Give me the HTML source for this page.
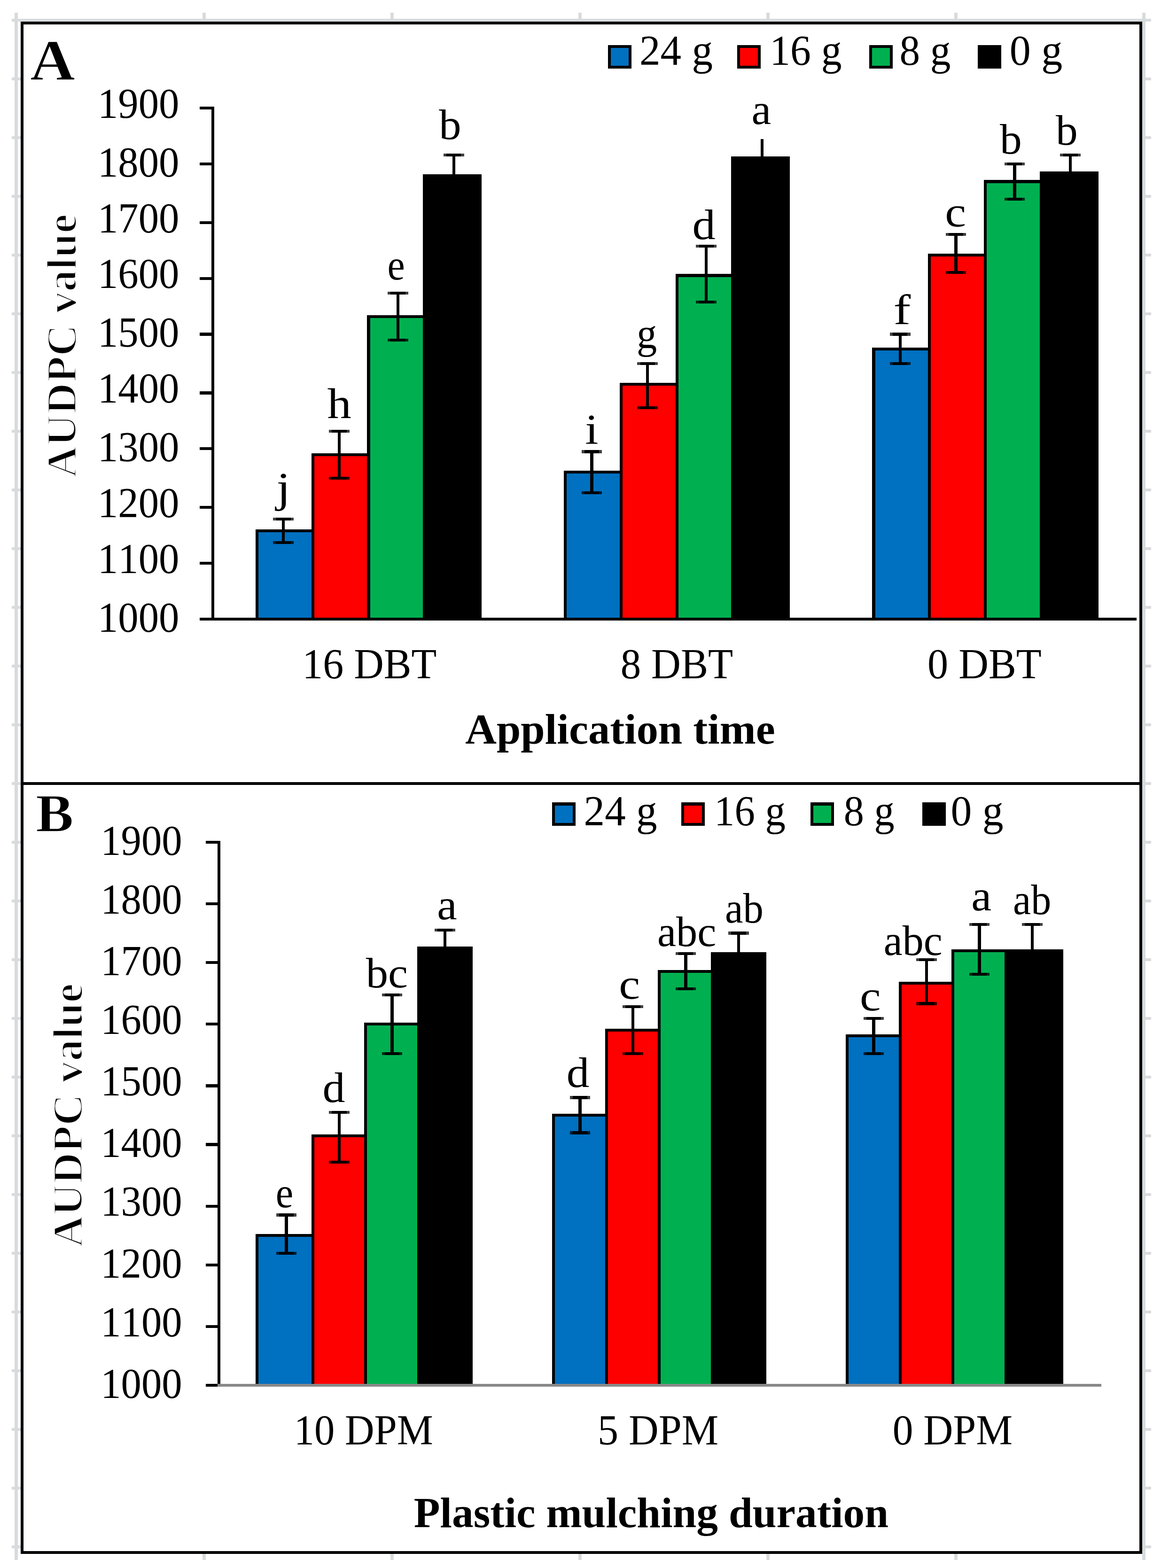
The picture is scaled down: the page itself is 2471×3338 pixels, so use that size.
<!DOCTYPE html>
<html><head><meta charset="utf-8"><title>AUDPC chart</title>
<style>
html,body{margin:0;padding:0;background:#fff;}
body{width:2471px;height:3338px;overflow:hidden;}
svg{display:block;}
text{font-family:"Liberation Serif","Times New Roman",serif;fill:#000;font-kerning:none;}
.b{font-weight:bold;}
</style></head>
<body>
<svg width="2471" height="3338" viewBox="0 0 2471 3338" shape-rendering="crispEdges">
<rect width="2471" height="3338" fill="#ffffff"/>
<g transform="translate(0 2.1) scale(6.25)">
<rect x="5" y="4" width="1" height="527" fill="#d8dbdd"/>
<rect x="69" y="4" width="1" height="527" fill="#d8dbdd"/>
<rect x="133" y="4" width="1" height="527" fill="#d8dbdd"/>
<rect x="197" y="4" width="1" height="527" fill="#d8dbdd"/>
<rect x="261" y="4" width="1" height="527" fill="#d8dbdd"/>
<rect x="325" y="4" width="1" height="527" fill="#d8dbdd"/>
<rect x="389" y="4" width="1" height="527" fill="#d8dbdd"/>
<rect x="4" y="6" width="388" height="1" fill="#d8dbdd"/>
<rect x="4" y="6" width="3" height="1" fill="#d8dbdd"/>
<rect x="390" y="6" width="2" height="1" fill="#d8dbdd"/>
<rect x="4" y="26" width="3" height="1" fill="#d8dbdd"/>
<rect x="390" y="26" width="2" height="1" fill="#d8dbdd"/>
<rect x="4" y="46" width="3" height="1" fill="#d8dbdd"/>
<rect x="390" y="46" width="2" height="1" fill="#d8dbdd"/>
<rect x="4" y="66" width="3" height="1" fill="#d8dbdd"/>
<rect x="390" y="66" width="2" height="1" fill="#d8dbdd"/>
<rect x="4" y="86" width="3" height="1" fill="#d8dbdd"/>
<rect x="390" y="86" width="2" height="1" fill="#d8dbdd"/>
<rect x="4" y="106" width="3" height="1" fill="#d8dbdd"/>
<rect x="390" y="106" width="2" height="1" fill="#d8dbdd"/>
<rect x="4" y="126" width="3" height="1" fill="#d8dbdd"/>
<rect x="390" y="126" width="2" height="1" fill="#d8dbdd"/>
<rect x="4" y="146" width="3" height="1" fill="#d8dbdd"/>
<rect x="390" y="146" width="2" height="1" fill="#d8dbdd"/>
<rect x="4" y="166" width="3" height="1" fill="#d8dbdd"/>
<rect x="390" y="166" width="2" height="1" fill="#d8dbdd"/>
<rect x="4" y="186" width="3" height="1" fill="#d8dbdd"/>
<rect x="390" y="186" width="2" height="1" fill="#d8dbdd"/>
<rect x="4" y="206" width="3" height="1" fill="#d8dbdd"/>
<rect x="390" y="206" width="2" height="1" fill="#d8dbdd"/>
<rect x="4" y="226" width="3" height="1" fill="#d8dbdd"/>
<rect x="390" y="226" width="2" height="1" fill="#d8dbdd"/>
<rect x="4" y="246" width="3" height="1" fill="#d8dbdd"/>
<rect x="390" y="246" width="2" height="1" fill="#d8dbdd"/>
<rect x="4" y="266" width="3" height="1" fill="#d8dbdd"/>
<rect x="390" y="266" width="2" height="1" fill="#d8dbdd"/>
<rect x="4" y="286" width="3" height="1" fill="#d8dbdd"/>
<rect x="390" y="286" width="2" height="1" fill="#d8dbdd"/>
<rect x="4" y="306" width="3" height="1" fill="#d8dbdd"/>
<rect x="390" y="306" width="2" height="1" fill="#d8dbdd"/>
<rect x="4" y="326" width="3" height="1" fill="#d8dbdd"/>
<rect x="390" y="326" width="2" height="1" fill="#d8dbdd"/>
<rect x="4" y="346" width="3" height="1" fill="#d8dbdd"/>
<rect x="390" y="346" width="2" height="1" fill="#d8dbdd"/>
<rect x="4" y="366" width="3" height="1" fill="#d8dbdd"/>
<rect x="390" y="366" width="2" height="1" fill="#d8dbdd"/>
<rect x="4" y="386" width="3" height="1" fill="#d8dbdd"/>
<rect x="390" y="386" width="2" height="1" fill="#d8dbdd"/>
<rect x="4" y="406" width="3" height="1" fill="#d8dbdd"/>
<rect x="390" y="406" width="2" height="1" fill="#d8dbdd"/>
<rect x="4" y="426" width="3" height="1" fill="#d8dbdd"/>
<rect x="390" y="426" width="2" height="1" fill="#d8dbdd"/>
<rect x="4" y="446" width="3" height="1" fill="#d8dbdd"/>
<rect x="390" y="446" width="2" height="1" fill="#d8dbdd"/>
<rect x="4" y="466" width="3" height="1" fill="#d8dbdd"/>
<rect x="390" y="466" width="2" height="1" fill="#d8dbdd"/>
<rect x="4" y="486" width="3" height="1" fill="#d8dbdd"/>
<rect x="390" y="486" width="2" height="1" fill="#d8dbdd"/>
<rect x="4" y="506" width="3" height="1" fill="#d8dbdd"/>
<rect x="390" y="506" width="2" height="1" fill="#d8dbdd"/>
<rect x="4" y="526" width="3" height="1" fill="#d8dbdd"/>
<rect x="390" y="526" width="2" height="1" fill="#d8dbdd"/>
<rect x="7" y="7" width="382" height="522" fill="#ffffff"/>
<rect x="7" y="7" width="382" height="1" fill="#000000"/>
<rect x="7" y="528" width="382" height="1" fill="#000000"/>
<rect x="7" y="7" width="1" height="522" fill="#000000"/>
<rect x="388" y="7" width="1" height="522" fill="#000000"/>
<rect x="7" y="266" width="382" height="1" fill="#000000"/>
<rect x="87" y="180" width="20" height="31" fill="#000000"/>
<rect x="88" y="181" width="18" height="30" fill="#0070c0"/>
<rect x="106" y="154" width="20" height="57" fill="#000000"/>
<rect x="107" y="155" width="18" height="56" fill="#ff0000"/>
<rect x="125" y="107" width="20" height="104" fill="#000000"/>
<rect x="126" y="108" width="18" height="103" fill="#00b050"/>
<rect x="144" y="59" width="20" height="152" fill="#000000"/>
<rect x="192" y="160" width="20" height="51" fill="#000000"/>
<rect x="193" y="161" width="18" height="50" fill="#0070c0"/>
<rect x="211" y="130" width="20" height="81" fill="#000000"/>
<rect x="212" y="131" width="18" height="80" fill="#ff0000"/>
<rect x="230" y="93" width="20" height="118" fill="#000000"/>
<rect x="231" y="94" width="18" height="117" fill="#00b050"/>
<rect x="249" y="53" width="20" height="158" fill="#000000"/>
<rect x="297" y="118" width="20" height="93" fill="#000000"/>
<rect x="298" y="119" width="18" height="92" fill="#0070c0"/>
<rect x="316" y="86" width="20" height="125" fill="#000000"/>
<rect x="317" y="87" width="18" height="124" fill="#ff0000"/>
<rect x="335" y="61" width="20" height="150" fill="#000000"/>
<rect x="336" y="62" width="18" height="149" fill="#00b050"/>
<rect x="354" y="58" width="20" height="153" fill="#000000"/>
<rect x="96" y="176" width="1" height="9" fill="#000000"/>
<rect x="94" y="176" width="5" height="1" fill="#000000"/>
<rect x="93" y="176" width="1" height="1" fill="rgba(0,0,0,0.75)"/>
<rect x="99" y="176" width="1" height="1" fill="rgba(0,0,0,0.75)"/>
<rect x="94" y="184" width="5" height="1" fill="#000000"/>
<rect x="93" y="184" width="1" height="1" fill="rgba(0,0,0,0.75)"/>
<rect x="99" y="184" width="1" height="1" fill="rgba(0,0,0,0.75)"/>
<rect x="115" y="146" width="1" height="17" fill="#000000"/>
<rect x="113" y="146" width="5" height="1" fill="#000000"/>
<rect x="112" y="146" width="1" height="1" fill="rgba(0,0,0,0.75)"/>
<rect x="118" y="146" width="1" height="1" fill="rgba(0,0,0,0.75)"/>
<rect x="113" y="162" width="5" height="1" fill="#000000"/>
<rect x="112" y="162" width="1" height="1" fill="rgba(0,0,0,0.75)"/>
<rect x="118" y="162" width="1" height="1" fill="rgba(0,0,0,0.75)"/>
<rect x="135" y="99" width="1" height="17" fill="#000000"/>
<rect x="133" y="99" width="5" height="1" fill="#000000"/>
<rect x="132" y="99" width="1" height="1" fill="rgba(0,0,0,0.75)"/>
<rect x="138" y="99" width="1" height="1" fill="rgba(0,0,0,0.75)"/>
<rect x="133" y="115" width="5" height="1" fill="#000000"/>
<rect x="132" y="115" width="1" height="1" fill="rgba(0,0,0,0.75)"/>
<rect x="138" y="115" width="1" height="1" fill="rgba(0,0,0,0.75)"/>
<rect x="154" y="52" width="1" height="9" fill="#000000"/>
<rect x="152" y="52" width="5" height="1" fill="#000000"/>
<rect x="151" y="52" width="1" height="1" fill="rgba(0,0,0,0.75)"/>
<rect x="157" y="52" width="1" height="1" fill="rgba(0,0,0,0.75)"/>
<rect x="201" y="153" width="1" height="15" fill="#000000"/>
<rect x="199" y="153" width="5" height="1" fill="#000000"/>
<rect x="198" y="153" width="1" height="1" fill="rgba(0,0,0,0.75)"/>
<rect x="204" y="153" width="1" height="1" fill="rgba(0,0,0,0.75)"/>
<rect x="199" y="167" width="5" height="1" fill="#000000"/>
<rect x="198" y="167" width="1" height="1" fill="rgba(0,0,0,0.75)"/>
<rect x="204" y="167" width="1" height="1" fill="rgba(0,0,0,0.75)"/>
<rect x="220" y="123" width="1" height="16" fill="#000000"/>
<rect x="218" y="123" width="5" height="1" fill="#000000"/>
<rect x="217" y="123" width="1" height="1" fill="rgba(0,0,0,0.75)"/>
<rect x="223" y="123" width="1" height="1" fill="rgba(0,0,0,0.75)"/>
<rect x="218" y="138" width="5" height="1" fill="#000000"/>
<rect x="217" y="138" width="1" height="1" fill="rgba(0,0,0,0.75)"/>
<rect x="223" y="138" width="1" height="1" fill="rgba(0,0,0,0.75)"/>
<rect x="240" y="83" width="1" height="20" fill="#000000"/>
<rect x="238" y="83" width="5" height="1" fill="#000000"/>
<rect x="237" y="83" width="1" height="1" fill="rgba(0,0,0,0.75)"/>
<rect x="243" y="83" width="1" height="1" fill="rgba(0,0,0,0.75)"/>
<rect x="238" y="102" width="5" height="1" fill="#000000"/>
<rect x="237" y="102" width="1" height="1" fill="rgba(0,0,0,0.75)"/>
<rect x="243" y="102" width="1" height="1" fill="rgba(0,0,0,0.75)"/>
<rect x="259" y="47" width="1" height="7" fill="#000000"/>
<rect x="306" y="113" width="1" height="11" fill="#000000"/>
<rect x="304" y="113" width="5" height="1" fill="#000000"/>
<rect x="303" y="113" width="1" height="1" fill="rgba(0,0,0,0.75)"/>
<rect x="309" y="113" width="1" height="1" fill="rgba(0,0,0,0.75)"/>
<rect x="304" y="123" width="5" height="1" fill="#000000"/>
<rect x="303" y="123" width="1" height="1" fill="rgba(0,0,0,0.75)"/>
<rect x="309" y="123" width="1" height="1" fill="rgba(0,0,0,0.75)"/>
<rect x="325" y="79" width="1" height="14" fill="#000000"/>
<rect x="323" y="79" width="5" height="1" fill="#000000"/>
<rect x="322" y="79" width="1" height="1" fill="rgba(0,0,0,0.75)"/>
<rect x="328" y="79" width="1" height="1" fill="rgba(0,0,0,0.75)"/>
<rect x="323" y="92" width="5" height="1" fill="#000000"/>
<rect x="322" y="92" width="1" height="1" fill="rgba(0,0,0,0.75)"/>
<rect x="328" y="92" width="1" height="1" fill="rgba(0,0,0,0.75)"/>
<rect x="345" y="55" width="1" height="13" fill="#000000"/>
<rect x="343" y="55" width="5" height="1" fill="#000000"/>
<rect x="342" y="55" width="1" height="1" fill="rgba(0,0,0,0.75)"/>
<rect x="348" y="55" width="1" height="1" fill="rgba(0,0,0,0.75)"/>
<rect x="343" y="67" width="5" height="1" fill="#000000"/>
<rect x="342" y="67" width="1" height="1" fill="rgba(0,0,0,0.75)"/>
<rect x="348" y="67" width="1" height="1" fill="rgba(0,0,0,0.75)"/>
<rect x="364" y="52" width="1" height="9" fill="#000000"/>
<rect x="362" y="52" width="5" height="1" fill="#000000"/>
<rect x="361" y="52" width="1" height="1" fill="rgba(0,0,0,0.75)"/>
<rect x="367" y="52" width="1" height="1" fill="rgba(0,0,0,0.75)"/>
<rect x="72" y="36" width="1" height="175" fill="#000000"/>
<rect x="68" y="210" width="319" height="1" fill="#000000"/>
<rect x="68" y="36" width="4" height="1" fill="#000000"/>
<rect x="68" y="55" width="4" height="1" fill="#000000"/>
<rect x="68" y="75" width="4" height="1" fill="#000000"/>
<rect x="68" y="94" width="4" height="1" fill="#000000"/>
<rect x="68" y="113" width="4" height="1" fill="#000000"/>
<rect x="68" y="133" width="4" height="1" fill="#000000"/>
<rect x="68" y="152" width="4" height="1" fill="#000000"/>
<rect x="68" y="172" width="4" height="1" fill="#000000"/>
<rect x="68" y="191" width="4" height="1" fill="#000000"/>
<rect x="68" y="210" width="4" height="1" fill="#000000"/>
<rect x="87" y="420" width="20" height="52" fill="#000000"/>
<rect x="88" y="421" width="18" height="51" fill="#0070c0"/>
<rect x="106" y="386" width="19" height="86" fill="#000000"/>
<rect x="107" y="387" width="17" height="85" fill="#ff0000"/>
<rect x="124" y="348" width="19" height="124" fill="#000000"/>
<rect x="125" y="349" width="17" height="123" fill="#00b050"/>
<rect x="142" y="322" width="19" height="150" fill="#000000"/>
<rect x="188" y="379" width="19" height="93" fill="#000000"/>
<rect x="189" y="380" width="17" height="92" fill="#0070c0"/>
<rect x="206" y="350" width="19" height="122" fill="#000000"/>
<rect x="207" y="351" width="17" height="121" fill="#ff0000"/>
<rect x="224" y="330" width="19" height="142" fill="#000000"/>
<rect x="225" y="331" width="17" height="141" fill="#00b050"/>
<rect x="242" y="324" width="19" height="148" fill="#000000"/>
<rect x="288" y="352" width="19" height="120" fill="#000000"/>
<rect x="289" y="353" width="17" height="119" fill="#0070c0"/>
<rect x="306" y="334" width="19" height="138" fill="#000000"/>
<rect x="307" y="335" width="17" height="137" fill="#ff0000"/>
<rect x="324" y="323" width="19" height="149" fill="#000000"/>
<rect x="325" y="324" width="17" height="148" fill="#00b050"/>
<rect x="342" y="323" width="20" height="149" fill="#000000"/>
<rect x="97" y="413" width="1" height="14" fill="#000000"/>
<rect x="95" y="413" width="5" height="1" fill="#000000"/>
<rect x="94" y="413" width="1" height="1" fill="rgba(0,0,0,0.75)"/>
<rect x="100" y="413" width="1" height="1" fill="rgba(0,0,0,0.75)"/>
<rect x="95" y="426" width="5" height="1" fill="#000000"/>
<rect x="94" y="426" width="1" height="1" fill="rgba(0,0,0,0.75)"/>
<rect x="100" y="426" width="1" height="1" fill="rgba(0,0,0,0.75)"/>
<rect x="115" y="378" width="1" height="18" fill="#000000"/>
<rect x="113" y="378" width="5" height="1" fill="#000000"/>
<rect x="112" y="378" width="1" height="1" fill="rgba(0,0,0,0.75)"/>
<rect x="118" y="378" width="1" height="1" fill="rgba(0,0,0,0.75)"/>
<rect x="113" y="395" width="5" height="1" fill="#000000"/>
<rect x="112" y="395" width="1" height="1" fill="rgba(0,0,0,0.75)"/>
<rect x="118" y="395" width="1" height="1" fill="rgba(0,0,0,0.75)"/>
<rect x="133" y="338" width="1" height="21" fill="#000000"/>
<rect x="131" y="338" width="5" height="1" fill="#000000"/>
<rect x="130" y="338" width="1" height="1" fill="rgba(0,0,0,0.75)"/>
<rect x="136" y="338" width="1" height="1" fill="rgba(0,0,0,0.75)"/>
<rect x="131" y="358" width="5" height="1" fill="#000000"/>
<rect x="130" y="358" width="1" height="1" fill="rgba(0,0,0,0.75)"/>
<rect x="136" y="358" width="1" height="1" fill="rgba(0,0,0,0.75)"/>
<rect x="151" y="316" width="1" height="7" fill="#000000"/>
<rect x="149" y="316" width="5" height="1" fill="#000000"/>
<rect x="148" y="316" width="1" height="1" fill="rgba(0,0,0,0.75)"/>
<rect x="154" y="316" width="1" height="1" fill="rgba(0,0,0,0.75)"/>
<rect x="197" y="373" width="1" height="13" fill="#000000"/>
<rect x="195" y="373" width="5" height="1" fill="#000000"/>
<rect x="194" y="373" width="1" height="1" fill="rgba(0,0,0,0.75)"/>
<rect x="200" y="373" width="1" height="1" fill="rgba(0,0,0,0.75)"/>
<rect x="195" y="385" width="5" height="1" fill="#000000"/>
<rect x="194" y="385" width="1" height="1" fill="rgba(0,0,0,0.75)"/>
<rect x="200" y="385" width="1" height="1" fill="rgba(0,0,0,0.75)"/>
<rect x="215" y="342" width="1" height="17" fill="#000000"/>
<rect x="213" y="342" width="5" height="1" fill="#000000"/>
<rect x="212" y="342" width="1" height="1" fill="rgba(0,0,0,0.75)"/>
<rect x="218" y="342" width="1" height="1" fill="rgba(0,0,0,0.75)"/>
<rect x="213" y="358" width="5" height="1" fill="#000000"/>
<rect x="212" y="358" width="1" height="1" fill="rgba(0,0,0,0.75)"/>
<rect x="218" y="358" width="1" height="1" fill="rgba(0,0,0,0.75)"/>
<rect x="233" y="324" width="1" height="13" fill="#000000"/>
<rect x="231" y="324" width="5" height="1" fill="#000000"/>
<rect x="230" y="324" width="1" height="1" fill="rgba(0,0,0,0.75)"/>
<rect x="236" y="324" width="1" height="1" fill="rgba(0,0,0,0.75)"/>
<rect x="231" y="336" width="5" height="1" fill="#000000"/>
<rect x="230" y="336" width="1" height="1" fill="rgba(0,0,0,0.75)"/>
<rect x="236" y="336" width="1" height="1" fill="rgba(0,0,0,0.75)"/>
<rect x="251" y="317" width="1" height="8" fill="#000000"/>
<rect x="249" y="317" width="5" height="1" fill="#000000"/>
<rect x="248" y="317" width="1" height="1" fill="rgba(0,0,0,0.75)"/>
<rect x="254" y="317" width="1" height="1" fill="rgba(0,0,0,0.75)"/>
<rect x="297" y="346" width="1" height="13" fill="#000000"/>
<rect x="295" y="346" width="5" height="1" fill="#000000"/>
<rect x="294" y="346" width="1" height="1" fill="rgba(0,0,0,0.75)"/>
<rect x="300" y="346" width="1" height="1" fill="rgba(0,0,0,0.75)"/>
<rect x="295" y="358" width="5" height="1" fill="#000000"/>
<rect x="294" y="358" width="1" height="1" fill="rgba(0,0,0,0.75)"/>
<rect x="300" y="358" width="1" height="1" fill="rgba(0,0,0,0.75)"/>
<rect x="315" y="326" width="1" height="16" fill="#000000"/>
<rect x="313" y="326" width="5" height="1" fill="#000000"/>
<rect x="312" y="326" width="1" height="1" fill="rgba(0,0,0,0.75)"/>
<rect x="318" y="326" width="1" height="1" fill="rgba(0,0,0,0.75)"/>
<rect x="313" y="341" width="5" height="1" fill="#000000"/>
<rect x="312" y="341" width="1" height="1" fill="rgba(0,0,0,0.75)"/>
<rect x="318" y="341" width="1" height="1" fill="rgba(0,0,0,0.75)"/>
<rect x="333" y="314" width="1" height="18" fill="#000000"/>
<rect x="331" y="314" width="5" height="1" fill="#000000"/>
<rect x="330" y="314" width="1" height="1" fill="rgba(0,0,0,0.75)"/>
<rect x="336" y="314" width="1" height="1" fill="rgba(0,0,0,0.75)"/>
<rect x="331" y="331" width="5" height="1" fill="#000000"/>
<rect x="330" y="331" width="1" height="1" fill="rgba(0,0,0,0.75)"/>
<rect x="336" y="331" width="1" height="1" fill="rgba(0,0,0,0.75)"/>
<rect x="351" y="314" width="1" height="10" fill="#000000"/>
<rect x="349" y="314" width="5" height="1" fill="#000000"/>
<rect x="348" y="314" width="1" height="1" fill="rgba(0,0,0,0.75)"/>
<rect x="354" y="314" width="1" height="1" fill="rgba(0,0,0,0.75)"/>
<rect x="74" y="286" width="1" height="186" fill="#000000"/>
<rect x="70" y="286" width="4" height="1" fill="#000000"/>
<rect x="70" y="307" width="4" height="1" fill="#000000"/>
<rect x="70" y="327" width="4" height="1" fill="#000000"/>
<rect x="70" y="348" width="4" height="1" fill="#000000"/>
<rect x="70" y="369" width="4" height="1" fill="#000000"/>
<rect x="70" y="389" width="4" height="1" fill="#000000"/>
<rect x="70" y="410" width="4" height="1" fill="#000000"/>
<rect x="70" y="430" width="4" height="1" fill="#000000"/>
<rect x="70" y="451" width="4" height="1" fill="#000000"/>
<rect x="70" y="471" width="4" height="1" fill="#000000"/>
<rect x="74" y="471" width="301" height="1" fill="#898989"/>
<rect x="207" y="15" width="8" height="8" fill="#000000"/>
<rect x="208" y="16" width="6" height="6" fill="#0070c0"/>
<rect x="251" y="15" width="8" height="8" fill="#000000"/>
<rect x="252" y="16" width="6" height="6" fill="#ff0000"/>
<rect x="296" y="15" width="8" height="8" fill="#000000"/>
<rect x="297" y="16" width="6" height="6" fill="#00b050"/>
<rect x="333" y="15" width="8" height="8" fill="#000000"/>
<rect x="334" y="16" width="6" height="6" fill="#000000"/>
<rect x="188" y="273" width="8" height="8" fill="#000000"/>
<rect x="189" y="274" width="6" height="6" fill="#0070c0"/>
<rect x="232" y="273" width="8" height="8" fill="#000000"/>
<rect x="233" y="274" width="6" height="6" fill="#ff0000"/>
<rect x="276" y="273" width="8" height="8" fill="#000000"/>
<rect x="277" y="274" width="6" height="6" fill="#00b050"/>
<rect x="314" y="273" width="8" height="8" fill="#000000"/>
<rect x="315" y="274" width="6" height="6" fill="#000000"/>
<text transform="translate(10.228 26.917) scale(1.0898 1)" class="b" font-size="19.5" stroke="#fff" stroke-width="0.25">A</text>
<text transform="translate(12.147 282.932) scale(1.0612 1)" class="b" font-size="18.2" stroke="#fff" stroke-width="0.25">B</text>
<text transform="translate(217.761 21.769) scale(0.9722 1)" class="r" font-size="14.667">24 g</text>
<text transform="translate(262.116 21.769) scale(0.9557 1)" class="r" font-size="14.667">16 g</text>
<text transform="translate(306.304 21.790) scale(0.9525 1)" class="r" font-size="14.667">8 g</text>
<text transform="translate(343.791 21.790) scale(0.9826 1)" class="r" font-size="14.667">0 g</text>
<text transform="translate(198.817 280.761) scale(0.9722 1)" class="r" font-size="14.667">24 g</text>
<text transform="translate(243.198 280.761) scale(0.9478 1)" class="r" font-size="14.667">16 g</text>
<text transform="translate(287.334 280.782) scale(0.9424 1)" class="r" font-size="14.667">8 g</text>
<text transform="translate(323.745 280.782) scale(0.9790 1)" class="r" font-size="14.667">0 g</text>
<text transform="translate(33.281 39.805) scale(0.9459 1)" class="r" font-size="14.667">1900</text>
<text transform="translate(33.281 59.805) scale(0.9459 1)" class="r" font-size="14.667">1800</text>
<text transform="translate(33.281 78.805) scale(0.9459 1)" class="r" font-size="14.667">1700</text>
<text transform="translate(33.281 97.805) scale(0.9459 1)" class="r" font-size="14.667">1600</text>
<text transform="translate(33.281 117.805) scale(0.9459 1)" class="r" font-size="14.667">1500</text>
<text transform="translate(33.281 136.805) scale(0.9459 1)" class="r" font-size="14.667">1400</text>
<text transform="translate(33.281 156.805) scale(0.9459 1)" class="r" font-size="14.667">1300</text>
<text transform="translate(33.281 175.805) scale(0.9459 1)" class="r" font-size="14.667">1200</text>
<text transform="translate(33.281 194.805) scale(0.9459 1)" class="r" font-size="14.667">1100</text>
<text transform="translate(33.281 214.805) scale(0.9459 1)" class="r" font-size="14.667">1000</text>
<text transform="translate(34.281 290.805) scale(0.9459 1)" class="r" font-size="14.667">1900</text>
<text transform="translate(34.281 310.805) scale(0.9459 1)" class="r" font-size="14.667">1800</text>
<text transform="translate(34.281 331.805) scale(0.9459 1)" class="r" font-size="14.667">1700</text>
<text transform="translate(34.281 351.805) scale(0.9459 1)" class="r" font-size="14.667">1600</text>
<text transform="translate(34.281 372.805) scale(0.9459 1)" class="r" font-size="14.667">1500</text>
<text transform="translate(34.281 393.805) scale(0.9459 1)" class="r" font-size="14.667">1400</text>
<text transform="translate(34.281 413.805) scale(0.9459 1)" class="r" font-size="14.667">1300</text>
<text transform="translate(34.281 434.805) scale(0.9459 1)" class="r" font-size="14.667">1200</text>
<text transform="translate(34.281 454.805) scale(0.9459 1)" class="r" font-size="14.667">1100</text>
<text transform="translate(34.281 475.805) scale(0.9459 1)" class="r" font-size="14.667">1000</text>
<text transform="translate(25.975 162.370) rotate(-90) scale(1.0163 1)" class="b" font-size="14.667" stroke="#fff" stroke-width="0.55">AUDPC value</text>
<text transform="translate(27.975 424.514) rotate(-90) scale(1.0174 1)" class="b" font-size="14.667" stroke="#fff" stroke-width="0.55">AUDPC value</text>
<text transform="translate(102.926 230.736) scale(0.9601 1)" class="r" font-size="14.667">16 DBT</text>
<text transform="translate(211.329 230.757) scale(0.9501 1)" class="r" font-size="14.667">8 DBT</text>
<text transform="translate(315.850 230.757) scale(0.9627 1)" class="r" font-size="14.667">0 DBT</text>
<text transform="translate(100.113 491.717) scale(0.9455 1)" class="r" font-size="14.667">10 DPM</text>
<text transform="translate(203.521 491.642) scale(0.9615 1)" class="r" font-size="14.667">5 DPM</text>
<text transform="translate(303.951 491.717) scale(0.9544 1)" class="r" font-size="14.667">0 DPM</text>
<text transform="translate(158.436 252.911) scale(1.0080 1)" class="b" font-size="14.667">Application time</text>
<text transform="translate(140.922 519.878) scale(0.9970 1)" class="b" font-size="14.667">Plastic mulching duration</text>
<text transform="translate(94.116 170.686) scale(1.1739 1)" class="r" font-size="14.667">j</text>
<text transform="translate(111.428 142.072) scale(1.1194 1)" class="r" font-size="14.667">h</text>
<text transform="translate(131.928 94.864) scale(0.9152 1)" class="r" font-size="14.667">e</text>
<text transform="translate(149.460 46.953) scale(1.0332 1)" class="r" font-size="14.667">b</text>
<text transform="translate(199.245 150.792) scale(1.1125 1)" class="r" font-size="14.667">i</text>
<text transform="translate(216.818 118.197) scale(0.9427 1)" class="r" font-size="14.667">g</text>
<text transform="translate(235.771 81.041) scale(1.0736 1)" class="r" font-size="14.667">d</text>
<text transform="translate(255.907 41.850) scale(1.0259 1)" class="r" font-size="14.667">a</text>
<text transform="translate(304.239 110.108) scale(1.2000 1)" class="r" font-size="14.667">f</text>
<text transform="translate(321.789 76.824) scale(1.1011 1)" class="r" font-size="14.667">c</text>
<text transform="translate(340.484 52.017) scale(1.0191 1)" class="r" font-size="14.667">b</text>
<text transform="translate(359.508 48.993) scale(1.0191 1)" class="r" font-size="14.667">b</text>
<text transform="translate(93.892 410.888) scale(0.9211 1)" class="r" font-size="14.667">e</text>
<text transform="translate(109.833 374.977) scale(1.0470 1)" class="r" font-size="14.667">d</text>
<text transform="translate(124.580 336.049) scale(1.0328 1)" class="r" font-size="14.667">bc</text>
<text transform="translate(148.842 312.762) scale(1.0425 1)" class="r" font-size="14.667">a</text>
<text transform="translate(192.900 369.961) scale(1.0567 1)" class="r" font-size="14.667">d</text>
<text transform="translate(210.763 339.808) scale(1.1040 1)" class="r" font-size="14.667">c</text>
<text transform="translate(223.832 321.961) scale(0.9858 1)" class="r" font-size="14.667">abc</text>
<text transform="translate(246.877 313.953) scale(0.9454 1)" class="r" font-size="14.667">ab</text>
<text transform="translate(292.816 343.848) scale(1.0952 1)" class="r" font-size="14.667">c</text>
<text transform="translate(300.922 324.969) scale(0.9817 1)" class="r" font-size="14.667">abc</text>
<text transform="translate(330.755 309.802) scale(1.0563 1)" class="r" font-size="14.667">a</text>
<text transform="translate(344.960 310.977) scale(0.9379 1)" class="r" font-size="14.667">ab</text>
</g>
</svg>
</body></html>
